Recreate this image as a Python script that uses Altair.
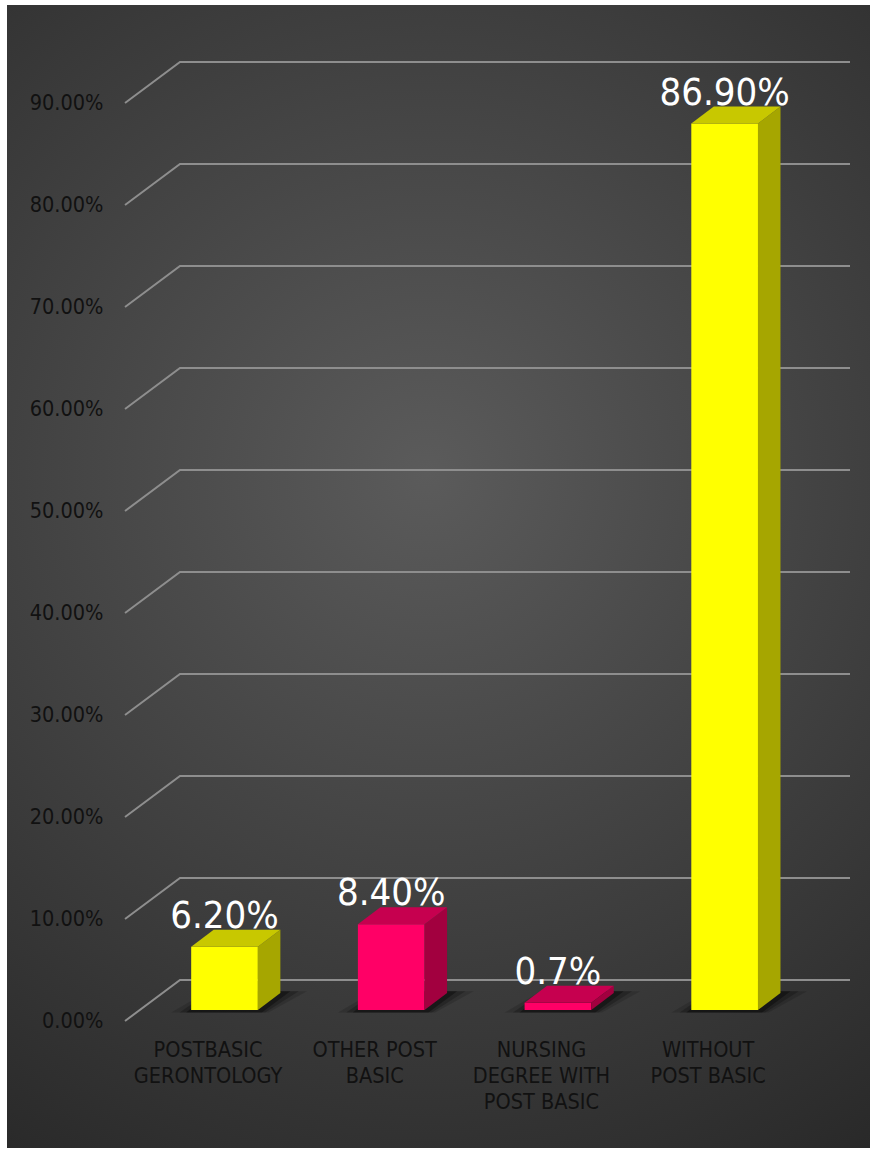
import altair as alt
import pandas as pd

# ---- data ----
categories = ["POSTBASIC\nGERONTOLOGY", "OTHER POST\nBASIC", "NURSING\nDEGREE WITH\nPOST BASIC", "WITHOUT\nPOST BASIC"]
values = [6.2, 8.4, 0.7, 86.9]
value_labels = ["6.20%", "8.40%", "0.7%", "86.90%"]
front_colors = ["#FFFF00", "#FF0066", "#FF0066", "#FFFF00"]
top_colors = ["#C8C800", "#C6004F", "#C6004F", "#C8C800"]
side_colors = ["#A6A600", "#A2003F", "#A2003F", "#A6A600"]
ticks = [0, 10, 20, 30, 40, 50, 60, 70, 80, 90]

# ---- geometry (projection of the 3D look) ----
W, H = 725, 969
XMIN, XMAX = -0.498, 3.851
YMAX = 95
BX, BY = 0.33, 4.02      # back-wall shift
FS, S = 0.099, 1.08      # bar front-plane shift
HALF = 0.2               # half bar width
DX, DY = 0.135, 1.667    # bar depth
FONT = "DejaVu Sans Condensed, Noto Sans, sans-serif"

xs = alt.Scale(domain=[XMIN, XMAX], nice=False, zero=False)
ys = alt.Scale(domain=[0, YMAX], nice=False, zero=False)
YAX = alt.Axis(
    values=ticks, labelExpr="format(datum.value, '.2f') + '%'",
    domain=False, ticks=False, grid=False, labelPadding=22, zindex=2,
    labelColor="#111111", labelFontSize=21.5, labelFont=FONT, title=None)


def X(f):
    return alt.X(f, scale=xs, axis=None, title=None)


def Y(f):
    return alt.Y(f, scale=ys, axis=YAX, title=None)


# background panel
bg = alt.Chart(pd.DataFrame({"a": [0]})).mark_rect(
    color=alt.RadialGradient(
        gradient="radial",
        stops=[alt.GradientStop(color="#5b5b5b", offset=0),
               alt.GradientStop(color="#282828", offset=1)],
        x1=0.49, y1=0.41, r1=0, x2=0.49, y2=0.41, r2=0.72,
    )
).encode(
    x=alt.value(7 - 125), x2=alt.value(W + 20),
    y=alt.value(5 - 52), y2=alt.value(H + 127),
)

# gridlines
g_rows = []
for v in ticks:
    g_rows += [
        {"v": v, "k": 0, "x": XMIN, "y": v},
        {"v": v, "k": 1, "x": XMIN + BX, "y": v + BY},
        {"v": v, "k": 2, "x": XMAX, "y": v + BY},
    ]
grid = alt.Chart(pd.DataFrame(g_rows)).mark_line(color="#8e8e8e", strokeWidth=2).encode(
    x=X("x:Q"), y=Y("y:Q"), detail="v:N", order="k:Q",
)

front_rows, side_rows, top_rows, shadow_rows, lab_rows, cat_rows = [], [], [], [], [], []
for i, v in enumerate(values):
    xl = i + FS - HALF
    xr = i + FS + HALF
    y0 = S
    y1 = v + S
    front_rows.append({"b": i, "x": xl, "x2": xr, "y": y0, "y2": y1, "c": front_colors[i]})
    side_rows += [
        {"b": i, "x": xr, "y": y1, "y2": y0, "c": side_colors[i]},
        {"b": i, "x": xr + DX, "y": y1 + DY, "y2": y0 + DY, "c": side_colors[i]},
    ]
    top_rows += [
        {"b": i, "y": y1, "x": xl, "x2": xr, "c": top_colors[i]},
        {"b": i, "y": y1 + DY, "x": xl + DX, "x2": xr + DX, "c": top_colors[i]},
    ]
    for s_id, (pad_l, pad_r, op) in enumerate([(0.12, 0.16, 0.14), (0.07, 0.11, 0.22), (0.03, 0.06, 0.35)]):
        shadow_rows += [
            {"b": f"{i}-{s_id}", "y": y0 - 0.25, "x": xl - pad_l, "x2": xr + pad_r * 0.4, "o": op},
            {"b": f"{i}-{s_id}", "y": y0 + DY * 1.1, "x": xl + DX - pad_l * 0.3, "x2": xr + DX + pad_r, "o": op},
        ]
    lab_rows.append({"x": i + FS, "y": y1 + DY, "t": value_labels[i]})
    cat_rows.append({"x": i, "t": categories[i]})

shadow = alt.Chart(pd.DataFrame(shadow_rows)).mark_area(orient="horizontal", color="#000000").encode(
    y=Y("y:Q"), x=X("x:Q"), x2="x2:Q",
    opacity=alt.Opacity("o:Q", scale=None),
    detail="b:N",
)

front = alt.Chart(pd.DataFrame(front_rows)).mark_rect().encode(
    x=X("x:Q"), x2="x2:Q", y=Y("y:Q"), y2="y2:Q",
    fill=alt.Fill("c:N", scale=None),
)

side = alt.Chart(pd.DataFrame(side_rows)).mark_area(orient="vertical").encode(
    x=X("x:Q"), y=Y("y:Q"), y2="y2:Q",
    fill=alt.Fill("c:N", scale=None),
    detail="b:N",
)

top = alt.Chart(pd.DataFrame(top_rows)).mark_area(orient="horizontal").encode(
    y=Y("y:Q"), x=X("x:Q"), x2="x2:Q",
    fill=alt.Fill("c:N", scale=None),
    detail="b:N",
)

labels = alt.Chart(pd.DataFrame(lab_rows)).mark_text(
    color="#FFFFFF", fontSize=38, font=FONT, baseline="alphabetic", dy=-2
).encode(
    x=X("x:Q"), y=Y("y:Q"), text="t:N",
)

cats = alt.Chart(pd.DataFrame(cat_rows)).mark_text(
    color="#111111", fontSize=21.5, font=FONT, baseline="top", lineBreak="\n", lineHeight=26
).encode(
    x=X("x:Q"), y=alt.value(H + 19), text="t:N",
)

chart = alt.layer(bg, grid, shadow, front, side, top, labels, cats).properties(
    width=W, height=H,
    autosize=alt.AutoSizeParams(type="none"),
    padding={"left": 125, "top": 52, "right": 21, "bottom": 129},
    background="#FFFFFF",
).configure_view(stroke=None)

chart.save("out.html", embed_options={"renderer": "svg", "actions": False})
